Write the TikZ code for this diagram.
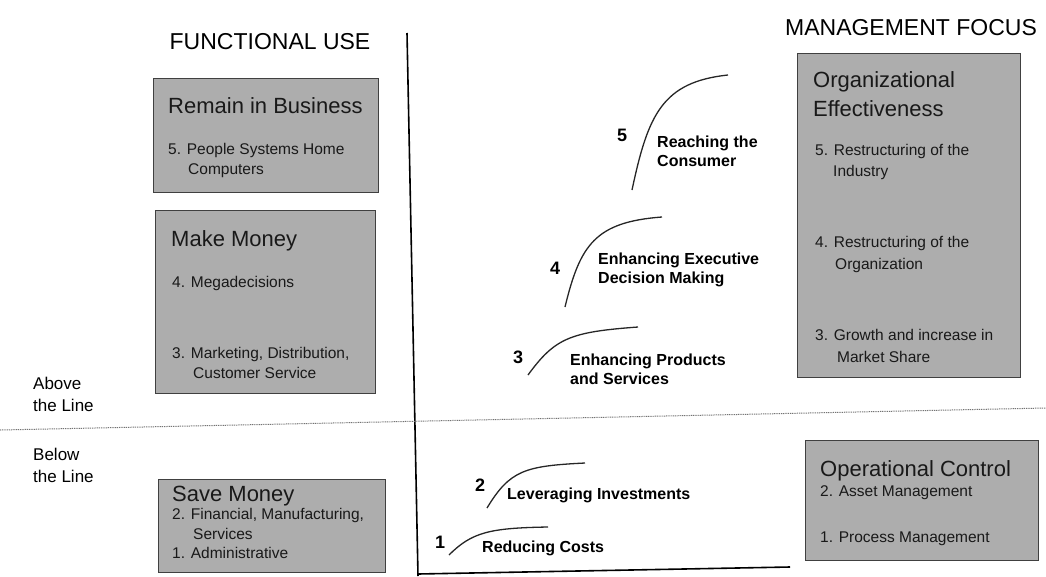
\documentclass[tikz,border=0pt]{standalone}
\usepackage{fontspec}
\setmainfont{Liberation Sans}
\begin{document}
\begin{tikzpicture}[x=1pt,y=-1pt,
  panel/.style={draw=black!75, line width=1.2pt, fill=black!32},
  ttl/.style={anchor=west, inner sep=0pt, text=black!90, font=\fontsize{22}{26}\selectfont},
  itm/.style={anchor=west, inner sep=0pt, text=black!90, font=\fontsize{15.5}{18}\selectfont},
  lbl/.style={anchor=west, inner sep=0pt, align=left, font=\bfseries\fontsize{16}{19}\selectfont},
  num/.style={inner sep=0pt, font=\bfseries\fontsize{18}{20}\selectfont},
  head/.style={inner sep=0pt, font=\fontsize{23}{27}\selectfont},
  side/.style={anchor=west, inner sep=0pt, align=left, font=\fontsize{17}{22}\selectfont},
  scurve/.style={line width=1.3pt, black!85}]
\useasboundingbox (0,0) rectangle (1046,576);

% axes
\coordinate (vtop) at (407,33);
\coordinate (vbot) at (418,576);
\coordinate (hl) at (418,574);
\coordinate (hr) at (790,567);
\coordinate (dl) at (0,430);
\coordinate (dr) at (1046,408);
\draw[line width=1.6pt] (vtop) -- (vbot);
\draw[line width=1.6pt] (hl) -- (hr);
\draw[black!55, line width=1pt, dash pattern=on 1pt off 0.8pt] (dl) -- (dr);

% headings
\node[head] (hfu) at (270,42) {FUNCTIONAL USE};
\node[head] (hmf) at (911,28) {MANAGEMENT FOCUS};
\node[side] (above) at (33,394) {Above\\the Line};
\node[side] (below) at (33,465) {Below\\the Line};

% left boxes
\node[panel, minimum width=225pt, minimum height=114pt, anchor=north west] (rib) at (153,78) {};
\node[ttl] (ribt) at (168,106) {Remain in Business};
\node[itm] (rib1) at (168,150) {5. People Systems Home};
\node[itm] (rib2) at (188,171) {Computers};

\node[panel, minimum width=220pt, minimum height=183pt, anchor=north west] (mm) at (155,210) {};
\node[ttl] (mmt) at (171,241) {Make Money};
\node[itm] (mm1) at (172,283) {4. Megadecisions};
\node[itm] (mm2) at (172,354) {3. Marketing, Distribution,};
\node[itm] (mm3) at (193,373) {Customer Service};

\node[panel, minimum width=227pt, minimum height=93pt, anchor=north west] (sm) at (158,479) {};
\node[ttl] (smt) at (172,496) {Save Money};
\node[itm] (sm1) at (172,515) {2. Financial, Manufacturing,};
\node[itm] (sm2) at (193,534) {Services};
\node[itm] (sm3) at (172,553) {1. Administrative};

% right boxes
\node[panel, minimum width=223pt, minimum height=324pt, anchor=north west] (oe) at (797,53) {};
\node[ttl] (oet1) at (813,82) {Organizational};
\node[ttl] (oet2) at (813,109) {Effectiveness};
\node[itm] (oe1) at (815,151) {5. Restructuring of the};
\node[itm] (oe2) at (833,172) {Industry};
\node[itm] (oe3) at (815,243) {4. Restructuring of the};
\node[itm] (oe4) at (835,265) {Organization};
\node[itm] (oe5) at (815,335) {3. Growth and increase in};
\node[itm] (oe6) at (837,357) {Market Share};

\node[panel, minimum width=233pt, minimum height=120pt, anchor=north west] (oc) at (805,440) {};
\node[ttl] (oct) at (820,471) {Operational Control};
\node[itm] (oc1) at (820,493) {2. Asset Management};
\node[itm] (oc2) at (820,539) {1. Process Management};

% S-curves
\coordinate (c5s) at (632,190); \coordinate (c5e) at (728,75);
\draw[scurve] (c5s) .. controls (648,115) and (662,82) .. (c5e);
\node[num] (n5) at (622,135) {5};
\node[lbl] (l5) at (657,151) {Reaching the\\Consumer};

\coordinate (c4s) at (565,307); \coordinate (c4e) at (662,217);
\draw[scurve] (c4s) .. controls (580,245) and (595,222) .. (c4e);
\node[num] (n4) at (555,268) {4};
\node[lbl] (l4) at (598,270) {Enhancing Executive\\Decision Making};

\coordinate (c3s) at (528,375); \coordinate (c3e) at (638,327);
\draw[scurve] (c3s) .. controls (555,338) and (570,332) .. (c3e);
\node[num] (n3) at (518,357) {3};
\node[lbl] (l3) at (570,369) {Enhancing Products\\and Services};

\coordinate (c2s) at (487,508); \coordinate (c2e) at (585,463);
\draw[scurve] (c2s) .. controls (510,470) and (525,466) .. (c2e);
\node[num] (n2) at (480,485) {2};
\node[lbl] (l2) at (507,495) {Leveraging Investments};

\coordinate (c1s) at (449,555); \coordinate (c1e) at (548,527);
\draw[scurve] (c1s) .. controls (472,532) and (490,528) .. (c1e);
\node[num] (n1) at (440,542) {1};
\node[lbl] (l1) at (482,548) {Reducing Costs};
\end{tikzpicture}
\end{document}
